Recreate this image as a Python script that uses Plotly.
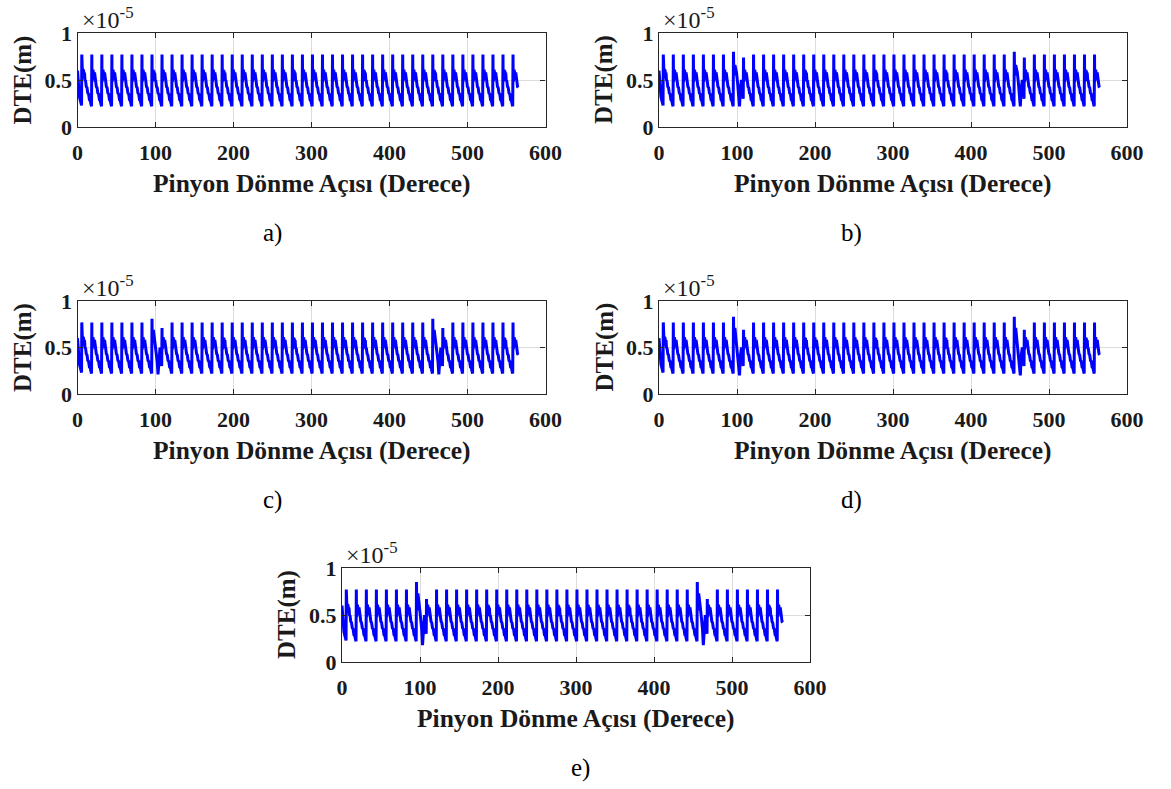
import plotly.graph_objects as go

W, H = 1171, 789

# ---------------- data ----------------
PANELS = ["a)", "b)", "c)", "d)", "e)"]
X_TICKS = [0, 100, 200, 300, 400, 500, 600]
Y_TICKS = [0, 0.5, 1]
Y_TICK_TEXT = ["0", "0.5", "1"]

TEETH_PER_REV = 28            # pinion mesh period = 360/28 deg
FIRST_PEAK_DEG = 5.5
END_DEG = 566.0
START_DTE = 0.60
PRE_PEAK_DTE = 0.23

# one normal mesh cycle (phase in fractions of a mesh period, DTE in 1e-5 m)
TOOTH_PHASE = [0.00, 0.02, 0.05, 0.08, 0.11, 0.14, 0.18, 0.22, 0.27, 0.32,
               0.38, 0.45, 0.52, 0.60, 0.68, 0.76, 0.84, 0.92, 0.97]
TOOTH_DTE   = [0.77, 0.48, 0.62, 0.52, 0.61, 0.55, 0.60, 0.54, 0.58, 0.50,
               0.49, 0.43, 0.42, 0.36, 0.35, 0.29, 0.28, 0.24, 0.22]

# defective tooth cycle (peak, bump and dip values set per panel)
DEFECT_TEETH = [7, 35]        # mesh cycles at ~95 deg and ~455 deg
DEFECT_PHASE = [0.00, 0.03, 0.08, 0.14, 0.22, 0.30, 0.40, 0.52, 0.60, 0.70, 0.80, 0.90, 0.97]
DEFECT_SHAPE = ["P", 0.55, 0.64, "B", 0.62, 0.58, 0.48, 0.35, "D", 0.42, 0.50, 0.40, 0.30]

DEFECT_PEAK = [None, 0.80, 0.81, 0.83, 0.85]
DEFECT_BUMP = [None, 0.66, 0.69, 0.71, 0.73]
DEFECT_DIP  = [None, 0.22, 0.21, 0.20, 0.18]
NEXT_PEAK   = [None, 0.74, 0.71, 0.69, 0.67]

# ---------------- build series ----------------
period = 360.0 / TEETH_PER_REV


def build(p):
    xs = [0.0, 1.0, 2.5, FIRST_PEAK_DEG - 0.3]
    ys = [START_DTE, 0.45, 0.32, PRE_PEAK_DTE]
    k = 0
    while True:
        peak_x = FIRST_PEAK_DEG + k * period
        if peak_x > END_DEG:
            break
        if DEFECT_PEAK[p] is not None and k in DEFECT_TEETH:
            phase = DEFECT_PHASE
            vals = []
            for v in DEFECT_SHAPE:
                if v == "P":
                    vals.append(DEFECT_PEAK[p])
                elif v == "B":
                    vals.append(DEFECT_BUMP[p])
                elif v == "D":
                    vals.append(DEFECT_DIP[p])
                else:
                    vals.append(v)
        else:
            phase = TOOTH_PHASE
            vals = list(TOOTH_DTE)
            if DEFECT_PEAK[p] is not None and (k - 1) in DEFECT_TEETH:
                vals[0] = NEXT_PEAK[p]
        for ph, v in zip(phase, vals):
            x = peak_x + ph * period
            if x > END_DEG:
                break
            xs.append(x)
            ys.append(v)
        k += 1
    return xs, ys


# ---------------- layout boxes (pixels) ----------------
BOXES = [
    (77.5, 545.5, 33, 127),
    (659, 1127, 33, 127),
    (77.5, 545.5, 301, 394),
    (659, 1127, 301, 394),
    (342, 810, 568, 662),
]
LETTER_POS = [(272, 233), (852, 233), (272, 500), (852, 500), (580, 768)]

FONT = "Liberation Serif"
TXT = "#1a1a1a"

fig = go.Figure()
annotations = []
layout = dict(
    width=W, height=H, margin=dict(l=0, r=0, t=0, b=0, autoexpand=False),
    paper_bgcolor="white", plot_bgcolor="white", showlegend=False,
)

for i, (l, r, t, b) in enumerate(BOXES):
    sfx = "" if i == 0 else str(i + 1)
    xs, ys = build(i)
    fig.add_trace(go.Scatter(
        x=xs, y=ys, mode="lines", xaxis="x" + sfx, yaxis="y" + sfx,
        line=dict(color="#0000ff", width=3), hoverinfo="skip",
    ))
    layout["xaxis" + sfx] = dict(
        domain=[l / W, r / W], anchor="y" + sfx, range=[0, 600],
        tickvals=X_TICKS, showgrid=True, gridcolor="#dcdcdc", gridwidth=1,
        zeroline=False, showline=True, linecolor="#262626", linewidth=1.2,
        mirror="allticks", ticks="inside", ticklen=5, tickcolor="#262626",
        automargin=False, ticklabelstandoff=5,
        tickfont=dict(family=FONT, size=22, color=TXT, weight="bold"),
    )
    layout["yaxis" + sfx] = dict(
        domain=[1 - b / H, 1 - t / H], anchor="x" + sfx, range=[0, 1],
        tickvals=Y_TICKS, ticktext=Y_TICK_TEXT, showgrid=True,
        gridcolor="#dcdcdc", gridwidth=1, zeroline=False, showline=True,
        linecolor="#262626", linewidth=1.2, mirror="allticks",
        ticks="inside", ticklen=5, tickcolor="#262626", automargin=False,
        tickfont=dict(family=FONT, size=22, color=TXT, weight="bold"),
    )
    # exponent label
    annotations.append(dict(
        x=(l + 2) / W, y=1 - (t + 2) / H, xref="paper", yref="paper",
        xanchor="left", yanchor="bottom", showarrow=False,
        text="×10<sup>-5</sup>", font=dict(family=FONT, size=24, color=TXT),
    ))
    # x title
    annotations.append(dict(
        x=(l + r) / 2 / W, y=1 - (b + 56) / H, xref="paper", yref="paper",
        xanchor="center", yanchor="middle", showarrow=False,
        text="<b>Pinyon Dönme Açısı (Derece)</b>",
        font=dict(family=FONT, size=25.5, color=TXT),
    ))
    # y title
    annotations.append(dict(
        x=(l - 55) / W, y=1 - (t + b) / 2 / H, xref="paper", yref="paper",
        xanchor="center", yanchor="middle", showarrow=False, textangle=-90,
        text="<b>DTE(m)</b>", font=dict(family=FONT, size=25, color=TXT),
    ))
    # panel letter
    lx, ly = LETTER_POS[i]
    annotations.append(dict(
        x=lx / W, y=1 - ly / H, xref="paper", yref="paper",
        xanchor="center", yanchor="middle", showarrow=False,
        text=PANELS[i], font=dict(family=FONT, size=25, color="#000000"),
    ))

layout["annotations"] = annotations
fig.update_layout(**layout)
fig.write_html(
    "out.html",
    config={"displayModeBar": False},
    post_script="document.body.style.margin='0';document.body.style.overflow='hidden';",
)
